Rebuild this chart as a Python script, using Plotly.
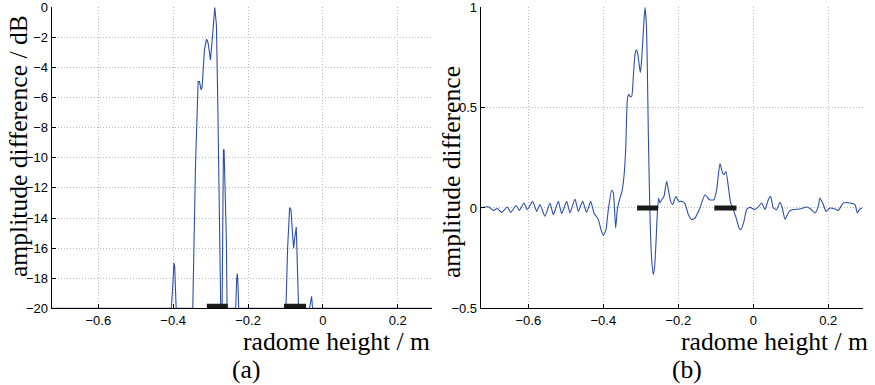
import plotly.graph_objects as go

# ---- data ----
# (b) linear amplitude difference vs radome height
lin_x = [-0.7271, -0.7156, -0.7049, -0.6933, -0.6827, -0.6711, -0.6560, -0.6471, -0.6329, -0.6240,
         -0.6116, -0.6027, -0.5884, -0.5778, -0.5689, -0.5556, -0.5422, -0.5333, -0.5200, -0.5111,
         -0.4978, -0.4889, -0.4756, -0.4667, -0.4551, -0.4444, -0.4338, -0.4249, -0.4133, -0.4062,
         -0.4000, -0.3929, -0.3867, -0.3778, -0.3733, -0.3671, -0.3627, -0.3556, -0.3502, -0.3449,
         -0.3404, -0.3360, -0.3324, -0.3289, -0.3244, -0.3200, -0.3156, -0.3120, -0.3084, -0.3049,
         -0.3013, -0.2978, -0.2933, -0.2889, -0.2853, -0.2827, -0.2800, -0.2773, -0.2747, -0.2711,
         -0.2667, -0.2631, -0.2596, -0.2560, -0.2524, -0.2489, -0.2444, -0.2382, -0.2311, -0.2258,
         -0.2204, -0.2151, -0.2062, -0.1991, -0.1911, -0.1822, -0.1733, -0.1644, -0.1556, -0.1440,
         -0.1289, -0.1173, -0.1049, -0.0978, -0.0889, -0.0818, -0.0782, -0.0729, -0.0667, -0.0604,
         -0.0533, -0.0444, -0.0382, -0.0329, -0.0249, -0.0178, -0.0089, 0.0044, 0.0133, 0.0222,
         0.0311, 0.0400, 0.0462, 0.0533, 0.0622, 0.0711, 0.0773, 0.0844, 0.0960, 0.1067,
         0.1244, 0.1422, 0.1529, 0.1644, 0.1733, 0.1778, 0.1867, 0.1938, 0.2044, 0.2178,
         0.2267, 0.2400, 0.2578, 0.2711, 0.2773, 0.2827, 0.2898]
lin_y = [0.000, 0.005, 0.005, -0.012, -0.003, -0.022, 0.005, -0.022, 0.012, -0.012,
         0.025, -0.008, 0.033, -0.017, 0.017, -0.041, 0.025, -0.033, 0.033, -0.028,
         0.033, -0.025, 0.045, -0.017, 0.033, -0.022, 0.033, -0.025, -0.058, -0.108,
         -0.138, -0.108, -0.008, 0.088, 0.075, -0.100, -0.008, 0.050, 0.083, 0.158,
         0.290, 0.539, 0.567, 0.556, 0.556, 0.655, 0.763, 0.788, 0.771, 0.721,
         0.675, 0.738, 0.879, 1.000, 0.920, 0.705, 0.373, 0.108, -0.091, -0.257,
         -0.332, -0.290, -0.174, -0.025, 0.050, 0.025, 0.041, 0.058, 0.133, 0.083,
         0.033, 0.017, 0.058, 0.033, 0.033, 0.022, -0.033, -0.058, -0.050, -0.008,
         0.066, 0.041, 0.041, 0.091, 0.221, 0.174, 0.166, 0.182, 0.108, 0.025,
         -0.008, -0.058, -0.100, -0.108, -0.066, -0.008, 0.003, -0.008, 0.005, 0.025,
         -0.008, 0.041, 0.058, 0.000, -0.008, 0.028, 0.000, -0.055, -0.017, -0.008,
         -0.005, 0.005, -0.005, -0.025, 0.008, 0.050, 0.017, -0.017, 0.000, -0.005,
         -0.012, 0.025, 0.025, 0.017, -0.025, -0.008, 0.000]

# (a) amplitude difference in dB (floor at -20 dB)
db_x = [-0.7271, -0.405, -0.401, -0.398, -0.396, -0.394, -0.392, -0.3476, -0.3404, -0.3333,
        -0.3298, -0.3253, -0.3227, -0.3164, -0.3111, -0.3084, -0.3058, -0.3004, -0.2978, -0.2942,
        -0.2889, -0.2844, -0.2809, -0.2773, -0.2738, -0.2729, -0.2693, -0.2676, -0.2658, -0.2640,
        -0.2613, -0.2578, -0.2560, -0.2329, -0.2302, -0.2284, -0.2267, -0.2249, -0.0987, -0.0942,
        -0.0889, -0.0853, -0.0818, -0.0782, -0.0747, -0.0711, -0.0684, -0.0649, -0.0356, -0.0329,
        -0.0302, -0.0276, 0.2898]
db_y = [-20, -20, -18.5, -17.0, -17.2, -18.5, -20, -20, -10.6, -4.94,
        -4.94, -5.49, -5.3, -2.83, -2.13, -2.2, -2.5, -3.5, -2.83, -1.73,
        0.0, -1.17, -6.16, -12.4, -19.3, -20, -20, -14.0, -9.48, -9.45,
        -11.5, -15.5, -20, -20, -18.0, -17.7, -18.5, -20, -20, -16.0,
        -13.3, -13.45, -14.8, -16.0, -15.2, -14.6, -17.0, -20, -20, -19.4,
        -19.2, -20, -20]

# black markers (radome regions)
bar_start = [-0.310, -0.104]
bar_end = [-0.254, -0.045]
bar_level_db = -19.86
bar_level_lin = 0.0

x_ticks = [-0.6, -0.4, -0.2, 0, 0.2]
x_ticktext = ["\u22120.6", "\u22120.4", "\u22120.2", "0", "0.2"]
db_ticks = list(range(-20, 1, 2))
lin_ticks = [-0.5, 0, 0.5, 1]

# ---- figure ----
W, H = 875, 385
BLUE = "#2f4fa6"
fig = go.Figure()

fig.add_trace(go.Scatter(x=db_x, y=db_y, mode="lines", line=dict(color=BLUE, width=1.1),
                         xaxis="x", yaxis="y", showlegend=False))
fig.add_trace(go.Scatter(x=lin_x, y=lin_y, mode="lines", line=dict(color=BLUE, width=1.1, shape="spline", smoothing=0.5),
                         xaxis="x2", yaxis="y2", showlegend=False))
for s, e in zip(bar_start, bar_end):
    fig.add_trace(go.Scatter(x=[s, e], y=[bar_level_db, bar_level_db], mode="lines",
                             line=dict(color="#1a1a1a", width=5), xaxis="x", yaxis="y", showlegend=False))
    fig.add_trace(go.Scatter(x=[s, e], y=[bar_level_lin, bar_level_lin], mode="lines",
                             line=dict(color="#1a1a1a", width=5), xaxis="x2", yaxis="y2", showlegend=False))

def px_x(p):
    return p / W

def px_y(p):
    return 1 - p / H

tickfont = dict(family="Liberation Sans, Arial, sans-serif", size=13, color="#000")
axcommon = dict(showline=True, linecolor="#000", linewidth=1, ticks="inside", ticklen=4,
                tickcolor="#000", showgrid=True, gridcolor="#b8b8b8", griddash="1px,2px",
                gridwidth=1, zeroline=False, tickfont=tickfont, automargin=False, mirror=False,
                ticklabeloverflow="allow")

xr = [-0.7245, 0.2915]
fig.update_layout(
    width=W, height=H, margin=dict(l=0, r=0, t=0, b=0),
    paper_bgcolor="white", plot_bgcolor="white",
    xaxis=dict(domain=[px_x(51.7), px_x(432)], range=xr, tickvals=x_ticks, ticktext=x_ticktext,
               anchor="y", **axcommon),
    yaxis=dict(domain=[px_y(308.3), px_y(7.3)], range=[-20, 0], tickvals=db_ticks, anchor="x", **axcommon),
    xaxis2=dict(domain=[px_x(480.7), px_x(862.7)], range=[-0.727, 0.2917], tickvals=x_ticks,
                ticktext=x_ticktext, anchor="y2", **axcommon),
    yaxis2=dict(domain=[px_y(308.3), px_y(7.3)], range=[-0.5, 1], tickvals=lin_ticks, anchor="x2", **axcommon),
)

serif = dict(family="Liberation Serif, Times New Roman, serif", size=25.6, color="#000")
ann = [
    dict(text="amplitude difference / dB", x=px_x(18), y=px_y(146), textangle=-90),
    dict(text="amplitude difference", x=px_x(452), y=px_y(172), textangle=-90),
    dict(text="radome height / m", x=px_x(432), y=px_y(341), xanchor="right"),
    dict(text="radome height / m", x=px_x(870), y=px_y(341), xanchor="right"),
    dict(text="(a)", x=px_x(246), y=px_y(369)),
    dict(text="(b)", x=px_x(687), y=px_y(369)),
]
for a in ann:
    a.setdefault("xanchor", "center")
    fig.add_annotation(xref="paper", yref="paper", showarrow=False, yanchor="middle", font=serif, **a)

fig.write_html("out.html", config={"displayModeBar": False},
               post_script="document.body.style.margin='0';document.body.style.overflow='hidden';")
